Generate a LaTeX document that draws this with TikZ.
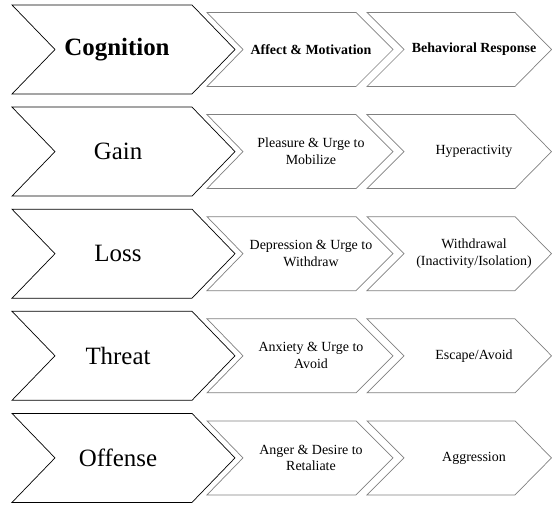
\documentclass[tikz,border=0pt]{standalone}
\usepackage{fontspec}
\setmainfont{Liberation Serif}
\begin{document}
\begin{tikzpicture}[x=1bp,y=-1bp,
  bigchev/.style={draw=black,line width=0.7bp,line join=miter},
  smallchev/.style={draw=black!50,line width=0.7bp,line join=miter},
  bigtext/.style={font=\fontsize{25}{30}\selectfont,text=black,align=center,inner sep=0pt},
  smalltext/.style={font=\fontsize{14}{17}\selectfont,text=black,align=center,inner sep=0pt}]
\useasboundingbox (0,0) rectangle (552,505);
% chevron: #1 style, #2 left, #3 notch, #4 corner, #5 tip, #6 yc, #7 half height
\newcommand{\mychev}[7]{%
  \draw[#1] (#2,#6-#7) -- (#4,#6-#7) -- (#5,#6) -- (#4,#6+#7) -- (#2,#6+#7) -- (#3,#6) -- cycle;}
\foreach \i in {0,...,4}{
  \pgfmathsetmacro{\yc}{49.5+102.1*\i}
  \mychev{bigchev}{12}{55}{192}{235}{\yc}{44.5}
  \mychev{smallchev}{207}{243}{356}{393}{\yc}{37}
  \mychev{smallchev}{367}{404}{515}{551.5}{\yc}{37}
}
\node[bigtext,font=\fontsize{25}{30}\selectfont\bfseries] (c0) at (117,49.5) {Cognition};
\node[smalltext,font=\fontsize{14}{17}\selectfont\bfseries] (a0) at (311,49.5) {Affect \& Motivation};
\node[smalltext,font=\fontsize{14}{17}\selectfont\bfseries] (b0) at (474,49.5) {Behavioral Response};

\node[bigtext] (c1) at (118,151.6) {Gain};
\node[smalltext] (a1) at (311,151.6) {Pleasure \& Urge to\\Mobilize};
\node[smalltext] (b1) at (474,151.6) {Hyperactivity};

\node[bigtext] (c2) at (118,253.7) {Loss};
\node[smalltext] (a2) at (311,253.7) {Depression \& Urge to\\Withdraw};
\node[smalltext] (b2) at (474,253.7) {Withdrawal\\(Inactivity/Isolation)};

\node[bigtext] (c3) at (118,355.8) {Threat};
\node[smalltext] (a3) at (311,355.8) {Anxiety \& Urge to\\Avoid};
\node[smalltext] (b3) at (474,355.8) {Escape/Avoid};

\node[bigtext] (c4) at (118,457.9) {Offense};
\node[smalltext] (a4) at (311,457.9) {Anger \& Desire to\\Retaliate};
\node[smalltext] (b4) at (474,457.9) {Aggression};
\end{tikzpicture}
\end{document}
